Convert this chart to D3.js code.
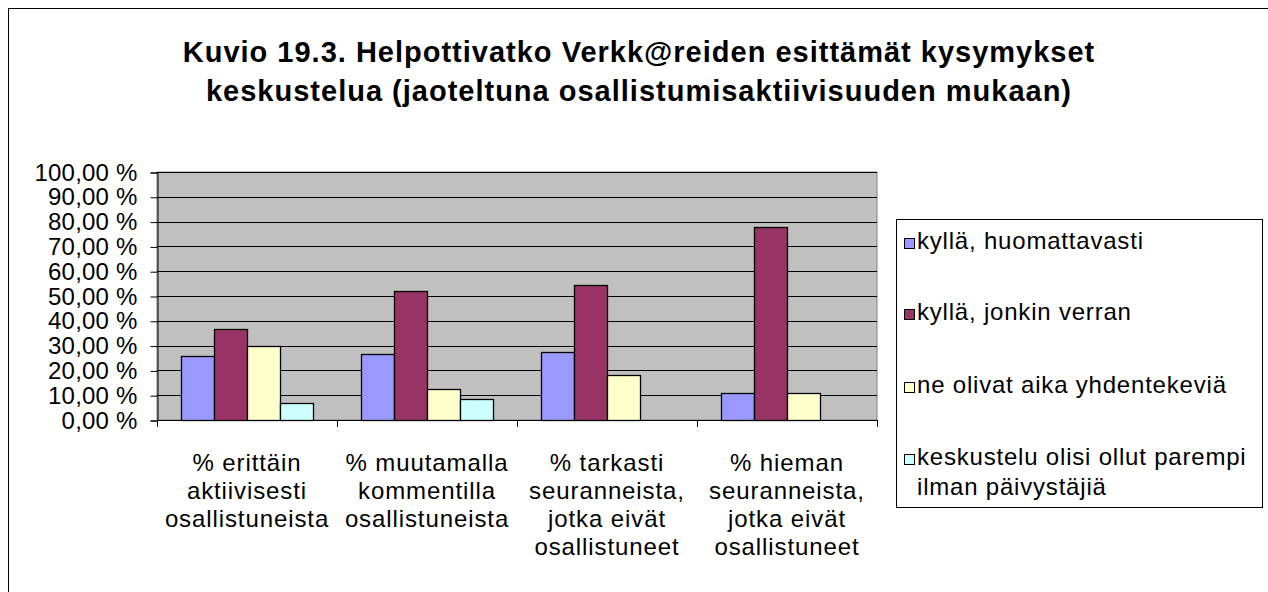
<!DOCTYPE html>
<html lang="fi">
<head>
<meta charset="utf-8">
<title>Kuvio 19.3</title>
<style>
  body { margin: 0; background: #fff; }
  text { font-family: "Liberation Sans", Arial, sans-serif; }
</style>
</head>
<body>
<script src="https://cdn.jsdelivr.net/npm/d3@7"></script>
<script>
    // data
    var categories = [
        ["% erittäin", "aktiivisesti", "osallistuneista"],
        ["% muutamalla", "kommentilla", "osallistuneista"],
        ["% tarkasti", "seuranneista,", "jotka eivät", "osallistuneet"],
        ["% hieman", "seuranneista,", "jotka eivät", "osallistuneet"]
    ];
    var seriesNames = [
        ["kyllä, huomattavasti"],
        ["kyllä, jonkin verran"],
        ["ne olivat aika yhdentekeviä"],
        ["keskustelu olisi ollut parempi", "ilman päivystäjiä"]
    ];
    var huomattavasti = [25.7, 26.6, 27.4, 10.9];
    var jonkinVerran = [36.7, 51.9, 54.3, 78.0];
    var yhdentekevia = [29.7, 12.5, 18.0, 10.9];
    var parempiIlman = [6.9, 8.5, 0, 0];
    var yTicks = [0, 10, 20, 30, 40, 50, 60, 70, 80, 90, 100];
    var titleLines = [
        "Kuvio 19.3. Helpottivatko Verkk@reiden esittämät kysymykset",
        "keskustelua (jaoteltuna osallistumisaktiivisuuden mukaan)"
    ];

    var values = [huomattavasti, jonkinVerran, yhdentekevia, parempiIlman];
    var colors = ["#9999ff", "#993366", "#ffffcc", "#ccffff"];

    var size = {width: 1268, height: 592};
    var plot = {left: 157, right: 877, top: 172, bottom: 420};

    var svg = d3.select("body").append("svg")
        .attr("width", size.width)
        .attr("height", size.height);

    // chart frame (runs off the right/bottom edge like the original)
    svg.append("rect")
        .attr("x", 8.5).attr("y", 8.5)
        .attr("width", size.width + 10).attr("height", size.height + 10)
        .attr("fill", "#fff").attr("stroke", "#000");

    svg.selectAll(".title")
        .data(titleLines)
        .enter().append("text")
        .attr("class", "title")
        .attr("x", 639)
        .attr("y", function(d, i){ return 62 + i * 39; })
        .attr("text-anchor", "middle")
        .attr("font-size", 29)
        .attr("font-weight", "bold")
        .attr("letter-spacing", 1)
        .text(function(d){ return d; });

    var x = d3.scaleBand()
        .domain(d3.range(categories.length))
        .range([plot.left, plot.right]);

    var xInner = d3.scaleBand()
        .domain(d3.range(values.length))
        .range([0, x.bandwidth()])
        .paddingInner(0)
        .paddingOuter(0.73);

    var y = d3.scaleLinear()
        .domain([0, 100])
        .range([plot.bottom, plot.top]);

    // plot area
    svg.append("rect")
        .attr("x", plot.left).attr("y", plot.top)
        .attr("width", plot.right - plot.left)
        .attr("height", plot.bottom - plot.top)
        .attr("fill", "#c0c0c0")
        .attr("stroke", "#808080");

    svg.append("g")
        .selectAll("line")
        .data(yTicks.slice(1))
        .enter().append("line")
        .attr("x1", plot.left).attr("x2", plot.right)
        .attr("y1", function(d){ return Math.round(y(d)) + 0.5; })
        .attr("y2", function(d){ return Math.round(y(d)) + 0.5; })
        .attr("stroke", "#000");

    // bars
    var groups = svg.append("g").selectAll("g")
        .data(values)
        .enter().append("g")
        .attr("fill", function(d, i){ return colors[i]; });

    groups.selectAll("rect")
        .data(function(d, s){ return d.map(function(v, c){ return {s: s, c: c, v: v}; }).filter(function(o){ return o.v > 0; }); })
        .enter().append("rect")
        .attr("x", function(d){ return Math.round(x(d.c) + xInner(d.s)) + 0.5; })
        .attr("width", Math.round(xInner.bandwidth()))
        .attr("y", function(d){ return Math.round(y(d.v)) + 0.5; })
        .attr("height", function(d){ return Math.round(y(0)) - Math.round(y(d.v)); })
        .attr("stroke", "#000")
        .attr("stroke-width", 1.3);

    // y axis
    var yAxis = d3.axisLeft(y)
        .tickValues(yTicks)
        .tickSize(7)
        .tickPadding(13)
        .tickFormat(function(d){ return d3.format(".2f")(d).replace(".", ",") + " %"; });

    var gy = svg.append("g")
        .attr("transform", "translate(" + (plot.left + 0.5) + ",0.5)")
        .call(yAxis);
    gy.select(".domain").attr("stroke", "#000");
    gy.selectAll("text")
        .attr("font-size", 24)
        .attr("letter-spacing", 0.2)
        .attr("fill", "#000")
        .attr("font-family", "'Liberation Sans', Arial, sans-serif");

    // x axis: ticks at category boundaries
    svg.append("line")
        .attr("x1", plot.left).attr("x2", plot.right)
        .attr("y1", plot.bottom + 0.5).attr("y2", plot.bottom + 0.5)
        .attr("stroke", "#000");

    svg.append("g").selectAll("line")
        .data(d3.range(categories.length + 1))
        .enter().append("line")
        .attr("x1", function(d){ return Math.round(plot.left + d * x.step()) + 0.5; })
        .attr("x2", function(d){ return Math.round(plot.left + d * x.step()) + 0.5; })
        .attr("y1", plot.bottom).attr("y2", plot.bottom + 7)
        .attr("stroke", "#000");

    var catLabels = svg.append("g").selectAll("text")
        .data(categories)
        .enter().append("text")
        .attr("text-anchor", "middle")
        .attr("font-size", 24)
        .attr("letter-spacing", 0.9);

    catLabels.selectAll("tspan")
        .data(function(d, i){ return d.map(function(t){ return {t: t, c: i}; }); })
        .enter().append("tspan")
        .attr("x", function(d){ return x(d.c) + x.bandwidth() / 2; })
        .attr("y", function(d, j){ return 471 + j * 28; })
        .text(function(d){ return d.t; });

    // legend
    var legend = svg.append("g");
    legend.append("rect")
        .attr("x", 896.5).attr("y", 219.5)
        .attr("width", 366).attr("height", 288)
        .attr("fill", "#fff").attr("stroke", "#000");

    var entryY = [249, 320, 393, 465];
    var items = legend.selectAll(".item")
        .data(seriesNames)
        .enter().append("g")
        .attr("class", "item")
        .attr("transform", function(d, i){ return "translate(0," + entryY[i] + ")"; });

    items.append("rect")
        .attr("x", 904.5).attr("y", -10.5)
        .attr("width", 10).attr("height", 10)
        .attr("fill", function(d, i){ return colors[i]; })
        .attr("stroke", "#000");

    items.append("text")
        .attr("font-size", 24)
        .attr("letter-spacing", 0.8)
        .selectAll("tspan")
        .data(function(d){ return d; })
        .enter().append("tspan")
        .attr("x", 917)
        .attr("y", function(d, j){ return j * 30; })
        .text(function(d){ return d; });
</script>
</body>
</html>
